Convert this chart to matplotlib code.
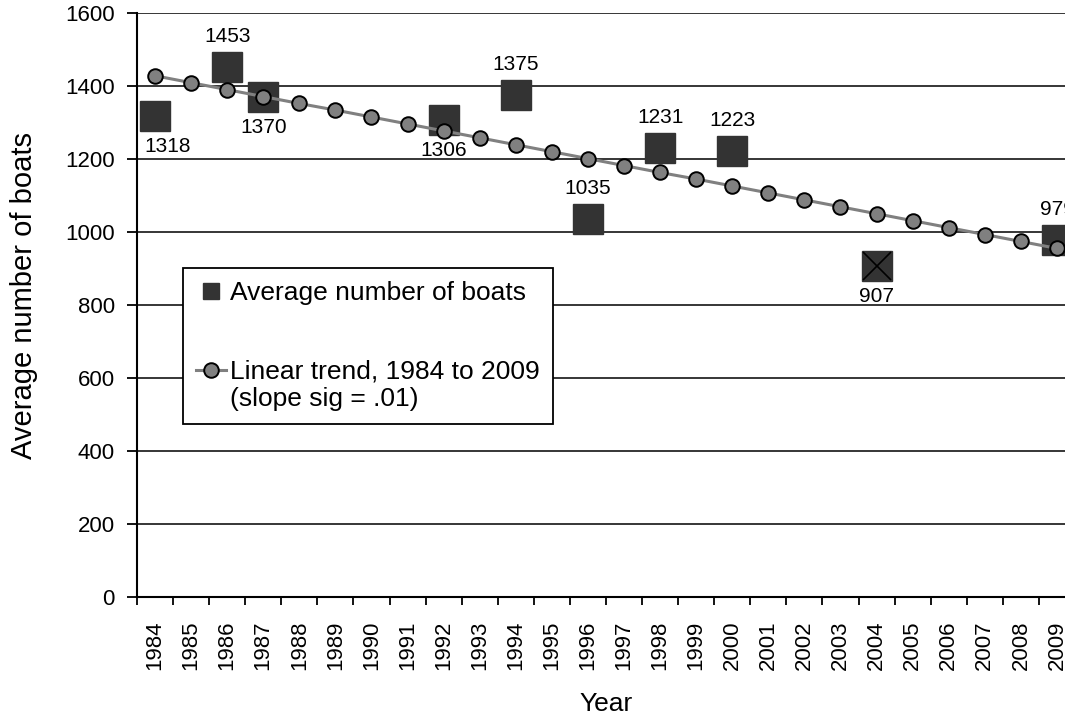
# Average number of boats with linear trend
import matplotlib
matplotlib.use("Agg")
import matplotlib.pyplot as plt
from matplotlib.legend_handler import HandlerLine2D
import numpy as np

plt.rcParams['font.family'] = ['Liberation Sans', 'DejaVu Sans']

years = ['1984', '1985', '1986', '1987', '1988', '1989', '1990', '1991', '1992',
         '1993', '1994', '1995', '1996', '1997', '1998', '1999', '2000', '2001',
         '2002', '2003', '2004', '2005', '2006', '2007', '2008', '2009']

obs_years = ['1984', '1986', '1987', '1992', '1994', '1996', '1998', '2000', '2004', '2009']
obs_boats = [1318, 1453, 1370, 1306, 1375, 1035, 1231, 1223, 907, 979]

trend = [1428, 1409, 1390, 1371, 1352, 1334, 1315, 1296, 1277, 1258, 1239, 1220, 1201,
         1182, 1163, 1145, 1126, 1107, 1088, 1069, 1050, 1031, 1012, 993, 974, 955]

labels_below = ['1984', '1987', '1992', '2004']
crossed = ['2004']


class FirstLineHandler(HandlerLine2D):
    # put the handle next to the first line of a two-line label
    def create_artists(self, legend, orig_handle, xdescent, ydescent, width,
                       height, fontsize, trans):
        arts = super().create_artists(legend, orig_handle, xdescent, ydescent,
                                      width, height, fontsize, trans)
        for a in arts:
            a.set_ydata(np.asarray(a.get_ydata()) + 0.6 * fontsize)
        return arts


fig = plt.figure(figsize=(10.65, 7.21), dpi=100)
ax = fig.add_axes([0.1286, 0.172, 0.8808, 0.810])

xi = [years.index(y) for y in obs_years]
xt = np.arange(len(years))

ax.plot(xi, obs_boats, ls='none', marker='s', ms=21.5, color='#333333', zorder=3)
for x, y, v in zip(xi, obs_boats, obs_years):
    if v in crossed:
        ax.plot(x, y, marker='x', ms=20, color='black', mew=1.2, zorder=3.5)

trend_line, = ax.plot(xt, trend, color='#808080', lw=2.2, marker='o', ms=10.5,
                      mfc='#808080', mec='black', mew=1.4, zorder=4)

for x, y, v in zip(xi, obs_boats, obs_years):
    dy = -22 if v in labels_below else 22
    dx = 9 if x == 0 else 0
    ax.annotate(str(y), (x, y), xytext=(dx, dy), textcoords='offset points',
                ha='center', va='center', fontsize=15, annotation_clip=False)

# legend proxy with a smaller square
sq, = ax.plot([], [], ls='none', marker='s', ms=12, color='#333333')

leg = ax.legend([sq, trend_line],
                ['Average number of boats', 'Linear trend, 1984 to 2009\n(slope sig = .01)'],
                loc='upper left', bbox_to_anchor=(0.049, 0.5634), borderaxespad=0,
                fontsize=19, fancybox=False, edgecolor='black', framealpha=1,
                labelspacing=2.05, handlelength=1.15, handletextpad=0.12, borderpad=0.5,
                handler_map={trend_line: FirstLineHandler()})
leg.get_frame().set_linewidth(1.3)

ax.set_xlim(-0.5, 25.5)
ax.set_ylim(0, 1600)
ax.set_yticks(range(0, 1601, 200))
ax.set_xticks(xt)
ax.set_xticklabels(years, rotation=90)
ax.set_xticks(np.arange(-0.5, 26, 1), minor=True)
ax.tick_params(axis='x', which='major', length=0, pad=17, labelsize=16)
ax.tick_params(axis='x', which='minor', length=6, width=1.3, direction='out')
ax.tick_params(axis='y', length=7, width=1.3, pad=9, labelsize=16)

ax.grid(axis='y', color='black', lw=1.1)
ax.set_axisbelow(True)
for s in ['top', 'right']:
    ax.spines[s].set_visible(False)
for s in ['left', 'bottom']:
    ax.spines[s].set_linewidth(1.5)

ax.set_xlabel('Year', fontsize=19, labelpad=16)
ax.set_ylabel('Average number of boats', fontsize=21)
ax.yaxis.set_label_coords(-0.105, 0.517)

fig.savefig('out.png', dpi=100)
